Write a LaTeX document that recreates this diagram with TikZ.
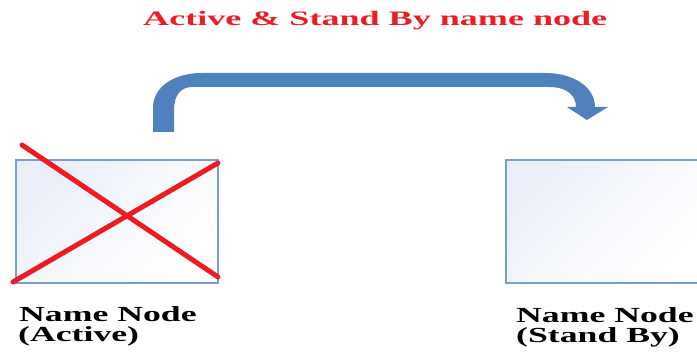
\documentclass[tikz,border=0pt]{standalone}
\usepackage{fontspec}
\usepackage{graphicx}
\setmainfont{Liberation Serif}
\definecolor{xred}{RGB}{237,28,36}
\definecolor{arrowblue}{RGB}{79,129,189}
\definecolor{boxedge}{RGB}{120,158,206}
\definecolor{boxtop}{RGB}{233,238,248}
\tikzset{
  nnbox/.style={draw=boxedge, line width=1.2pt, top color=boxtop, bottom color=white, middle color=boxtop!40!white, shading angle=30},
  cross/.style={draw=xred, line width=5pt, line cap=round},
  lbl/.style={inner sep=0pt, anchor=base west, font=\bfseries\fontsize{21.5}{21.5}\selectfont},
  ttl/.style={inner sep=0pt, anchor=base west, text=xred, font=\bfseries\fontsize{20.5}{20.5}\selectfont}
}
\begin{document}
\begin{tikzpicture}[x=1pt,y=-1pt]
\useasboundingbox (0,0) rectangle (697,352);
\fill[white] (0,0) rectangle (697,352);
\node[ttl] (title) at (143,26) {\scalebox{1.76}[1]{Active \& Stand By name node}};
% boxes
\shade[nnbox, shading angle=45] (16,160) rectangle (218,283);
\coordinate (a1) at (22,145);
\coordinate (a2) at (218,277);
\coordinate (b1) at (13,282);
\coordinate (b2) at (218,163);
\draw[cross] (a1) -- (a2);
\draw[cross] (b1) -- (b2);
\shade[nnbox, shading angle=45] (506,160) rectangle (705,283);
% bent arrow
\fill[arrowblue] (153,132) -- (153,108) .. controls (153,86) and (175,73) .. (202,73)
  -- (545,73) .. controls (575,73) and (595,88) .. (595,107)
  -- (608,107) -- (587,120) -- (567,107) -- (576,107)
  .. controls (576,95) and (566,87) .. (550,87)
  -- (192,87) .. controls (181,87) and (174,95) .. (174,110) -- (174,132) -- cycle;
% labels
\node[lbl] (l1) at (19,322) {\scalebox{1.66}[1]{Name Node}};
\node[lbl] (l2) at (18,342) {\scalebox{1.66}[1]{(Active)}};
\node[lbl] (r1) at (516,323) {\scalebox{1.66}[1]{Name Node}};
\node[lbl] (r2) at (516,343) {\scalebox{1.66}[1]{(Stand By)}};
\end{tikzpicture}
\end{document}
